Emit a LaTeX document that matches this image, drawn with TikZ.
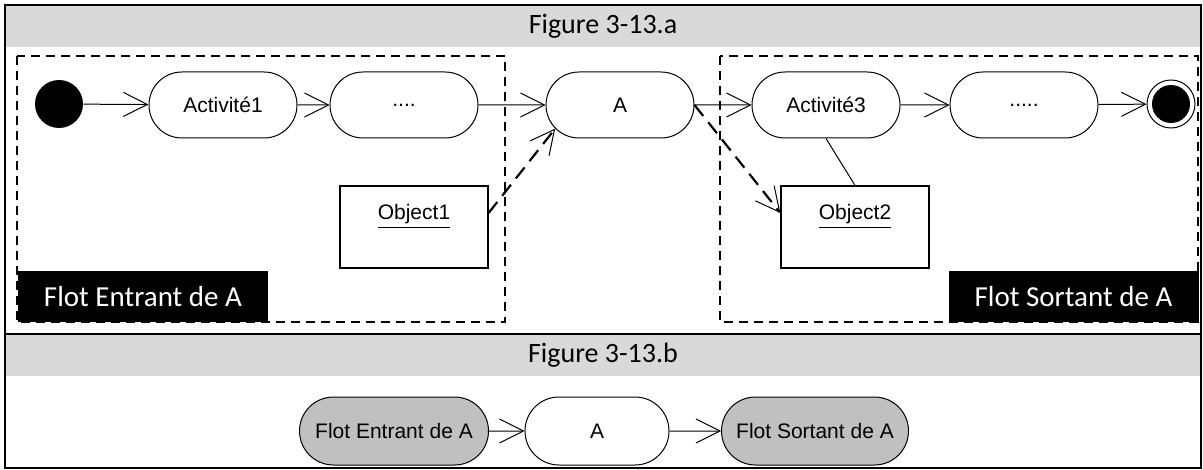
\documentclass[tikz,border=0pt]{standalone}
\usepackage{fontspec}
\setmainfont{Carlito}
\newfontfamily\arialfont{Liberation Sans}
\usepackage{xcolor}
\definecolor{headGray}{HTML}{D9D9D9}
\definecolor{flotGray}{HTML}{C0C0C0}
\usetikzlibrary{arrows.meta,shapes.misc,positioning}
\tikzset{
    activity/.style={
        draw,
        rounded rectangle,
        minimum width=74pt,
        minimum height=33pt,
        inner sep=0pt,
        line width=0.5pt,
        font=\arialfont\fontsize{10.5pt}{12pt}\selectfont
    },
    objbox/.style={
        draw,
        rectangle,
        minimum width=74pt,
        inner sep=0pt,
        text height=17pt,
        text depth=24pt,
        line width=0.6pt,
        font=\arialfont\fontsize{10.5pt}{12pt}\selectfont
    },
    initnode/.style={
        circle,
        fill=black,
        minimum size=24pt,
        inner sep=0pt
    },
    finalnode/.style={
        circle,
        draw,
        line width=0.5pt,
        minimum size=24pt,
        inner sep=0pt,
        path picture={\fill (path picture bounding box.center) circle (9.5pt);}
    },
    flotlabel/.style={
        fill=black,
        text=white,
        minimum width=125pt,
        minimum height=25.5pt,
        inner sep=0pt,
        font=\fontsize{14.5pt}{17pt}\selectfont
    },
    header/.style={
        font=\fontsize{14pt}{17pt}\selectfont
    },
    zone/.style={
        line width=1.2pt,
        dash pattern=on 4.5pt off 3pt
    },
    flow/.style={
        -{Straight Barb[length=12pt,width=12pt]},
        line width=0.5pt
    },
    dataflow/.style={
        -{Straight Barb[length=12pt,width=12pt,line width=0.5pt]},
        line width=1.1pt,
        dash pattern=on 7pt off 4pt
    },
    link/.style={
        line width=0.5pt
    }
}

\begin{document}
\begin{tikzpicture}[x=0.5pt,y=-0.5pt]
    \useasboundingbox (0,0) rectangle (1203,470);

    % Frame and headers
    \fill[headGray] (5,5) rectangle (1201,47);
    \fill[headGray] (5,334) rectangle (1201,376);
    \draw[line width=1.3pt] (5,5) rectangle (1201,468);
    \draw[line width=1.3pt] (5,334) -- (1201,334);
    \node[header] (heada) at (603,26) {Figure 3-13.a};
    \node[header] (headb) at (603,355) {Figure 3-13.b};

    % Zones
    \draw[zone] (17,56) rectangle (505,322);
    \draw[zone] (720,56) rectangle (1198,322);
    \node[flotlabel] (labin) at (143,296.5) {Flot Entrant de A};
    \node[flotlabel] (labout) at (1073.5,296.5) {Flot Sortant de A};

    % Activities
    \node[initnode] (init) at (59,104) {};
    \node[activity] (act1) at (223,105) {Activité1};
    \node[activity] (dots1) at (404,105) {....};
    \node[activity] (actA) at (620,105) {A};
    \node[activity] (act3) at (826,105) {Activité3};
    \node[activity] (dots2) at (1024,105) {.....};
    \node[finalnode] (final) at (1171,104) {};

    % Objects
    \node[objbox] (obj1) at (414,227) {\underline{Object1}};
    \node[objbox] (obj2) at (855,227) {\underline{Object2}};

    % Figure b
    \node[activity, fill=flotGray, minimum width=94.5pt, minimum height=34pt] (fin) at (394,431) {Flot Entrant de A};
    \node[activity, minimum width=72pt, minimum height=34pt] (bA) at (597,431) {A};
    \node[activity, fill=flotGray, minimum width=93.5pt, minimum height=34pt] (fout) at (815,431) {Flot Sortant de A};

    % Arrows
    \draw[flow] (init) -- (act1);
    \draw[flow] (act1) -- (dots1);
    \draw[flow] (dots1) -- (actA);
    \draw[flow] (actA) -- (act3);
    \draw[flow] (act3) -- (dots2);
    \draw[flow] (dots2) -- (final);
    \draw[dataflow] ([yshift=7pt]obj1.east) -- (actA.200);
    \draw[dataflow] (actA.east) -- ([yshift=7pt]obj2.west);
    \draw[link] (act3.south) -- (obj2.north);
    \draw[flow] (fin) -- (bA);
    \draw[flow] (bA) -- (fout);
\end{tikzpicture}
\end{document}
